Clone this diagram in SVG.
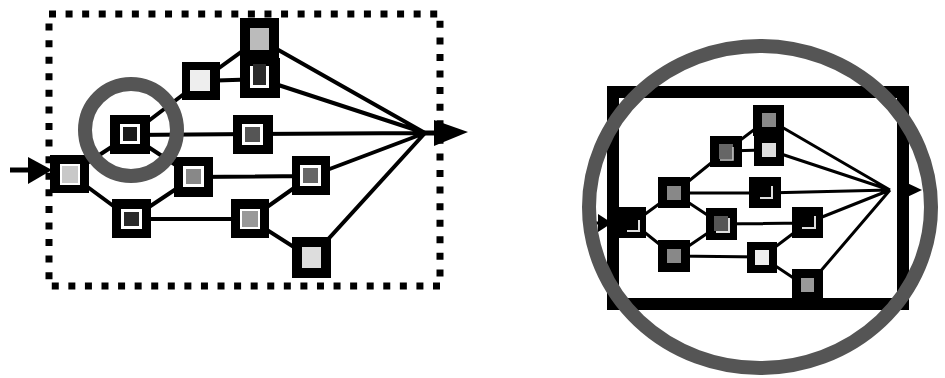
<svg xmlns="http://www.w3.org/2000/svg" width="945" height="378" viewBox="0 0 945 378">
<style>
.nb{fill:#000}
.wh{fill:#fff}
.ln{stroke:#000;stroke-width:4;fill:none}
.lr{stroke:#000;stroke-width:3;fill:none}
.ring{fill:none;stroke:#555}
</style>
<rect width="945" height="378" fill="#fff"/>
<!-- left frame -->
<rect x="49" y="14" width="391" height="272" fill="none" stroke="#000" stroke-width="7" stroke-dasharray="7 9.575"/>
<g id="connectors-left">
<path class="ln" d="M70,174 L130,135 M70,174 L131,219 M130,135 L201,81 M130,135 L253,134 M130,135 L194,177 M131,219 L194,177 M131,219 L250,219 M201,81 L259,39 M201,81 L260,79 M194,177 L311,176 M250,219 L311,176 M250,219 L311,258 M259,39 L425,133 M260,79 L425,133 M253,134 L425,133 M311,176 L425,133 M311,258 L425,133"/>
<path d="M10,170 L32,170" stroke="#000" stroke-width="5"/>
<path d="M28,157 L52,170 L28,184 Z" fill="#000"/>
<path d="M420,133 L437,133" stroke="#000" stroke-width="5"/>
<path d="M434,120 L468,132 L434,146 Z" fill="#000"/>
</g>
<g id="n1"><rect class="nb" x="50" y="155" width="39" height="38"/><rect class="wh" x="60" y="164" width="20" height="21"/><rect fill="#c8c8c8" x="62" y="166" width="16" height="17"/></g>
<g id="n2"><rect class="nb" x="110" y="115" width="40" height="39"/><rect class="wh" x="120" y="124" width="20" height="20"/><rect fill="#1a1a1a" x="123" y="127" width="14" height="14"/></g>
<g id="n3"><rect class="nb" x="112" y="199" width="39" height="39"/><rect class="wh" x="121" y="209" width="21" height="20"/><rect fill="#2a2a2a" x="124" y="212" width="15" height="14"/></g>
<g id="n4"><rect class="nb" x="174" y="157" width="39" height="40"/><rect class="wh" x="183" y="166" width="21" height="21"/><rect fill="#888" x="186" y="169" width="15" height="15"/></g>
<g id="n5"><rect class="nb" x="182" y="62" width="38" height="38"/><rect fill="#eee" x="190" y="70" width="20" height="21"/></g>
<g id="n6"><rect class="nb" x="240" y="18" width="39" height="42"/><rect fill="#bbb" x="250" y="28" width="19" height="22"/></g>
<g id="n7"><rect class="nb" x="240" y="58" width="40" height="40"/><rect class="wh" x="250" y="66" width="19" height="22"/><rect fill="#2a2a2a" x="253" y="64" width="13" height="21"/></g>
<g id="n8"><rect class="nb" x="233" y="115" width="40" height="39"/><rect class="wh" x="242" y="124" width="21" height="21"/><rect fill="#555" x="245" y="127" width="15" height="15"/></g>
<g id="n9"><rect class="nb" x="292" y="156" width="38" height="39"/><rect class="wh" x="300" y="165" width="21" height="21"/><rect fill="#666" x="303" y="168" width="15" height="15"/></g>
<g id="n10"><rect class="nb" x="231" y="199" width="38" height="39"/><rect class="wh" x="240" y="209" width="20" height="20"/><rect fill="#999" x="242" y="211" width="16" height="16"/></g>
<g id="n11"><rect class="nb" x="292" y="237" width="39" height="41"/><rect fill="#ddd" x="302" y="247" width="19" height="21"/></g>
<g id="highlight-ring"><circle class="ring" cx="131" cy="130" r="46" stroke-width="14"/></g>
<!-- right diagram -->
<rect x="613" y="92" width="290" height="212" fill="none" stroke="#000" stroke-width="12"/>
<g id="connectors-right">
<path class="lr" d="M633,223 L674,193 M633,223 L674,256 M674,193 L726,151 M674,193 L765,193 M674,193 L721,224 M674,256 L721,224 M674,256 L762,257 M726,151 L768,119 M726,151 L769,150 M721,224 L807,223 M762,257 L807,223 M762,257 L807,287 M768,119 L890,190 M769,150 L890,190 M765,193 L890,190 M807,223 L890,190 M807,287 L890,190"/>
<path d="M592,223 L602,223" stroke="#000" stroke-width="3"/>
<path d="M598,214 L612,223 L598,232 Z" fill="#000"/>
<path d="M903,181 L922,190 L903,199 Z" fill="#000"/>
</g>
<g id="r1"><rect class="nb" x="618" y="207" width="28" height="31"/><path d="M627,231 L639,231 L639,220" stroke="#ddd" stroke-width="2" fill="none"/></g>
<g id="r2"><rect class="nb" x="658" y="177" width="32" height="31"/><rect fill="#888" x="667" y="186" width="14" height="14"/></g>
<g id="r3"><rect class="nb" x="658" y="240" width="32" height="32"/><rect fill="#888" x="667" y="249" width="14" height="14"/></g>
<g id="r4"><rect class="nb" x="706" y="208" width="31" height="32"/><rect fill="#555" x="714" y="216" width="14" height="15"/><path d="M716,232 L729,232 L729,218" stroke="#ddd" stroke-width="2" fill="none"/></g>
<g id="r5"><rect class="nb" x="710" y="136" width="32" height="31"/><rect fill="#666" x="719" y="144" width="14" height="15"/><path d="M720,160 L733,160 L733,147" stroke="#ccc" stroke-width="1.5" fill="none"/></g>
<g id="r6"><rect class="nb" x="753" y="105" width="31" height="31"/><rect fill="#888" x="762" y="113" width="14" height="14"/></g>
<g id="r7"><rect class="nb" x="754" y="133" width="30" height="33"/><rect fill="#ddd" x="762" y="143" width="14" height="14"/></g>
<g id="r8"><rect class="nb" x="749" y="177" width="32" height="31"/><path d="M760,198 L772,198 L772,186" stroke="#ddd" stroke-width="2" fill="none"/></g>
<g id="r9"><rect class="nb" x="792" y="207" width="31" height="31"/><path d="M802,228 L815,228 L815,216" stroke="#ddd" stroke-width="2" fill="none"/></g>
<g id="r10"><rect class="nb" x="747" y="242" width="30" height="31"/><rect fill="#eee" x="755" y="250" width="14" height="15"/></g>
<g id="r11"><rect class="nb" x="792" y="269" width="31" height="35"/><rect fill="#999" x="801" y="278" width="13" height="14"/></g>
<g id="big-ring"><ellipse class="ring" cx="760" cy="207" rx="171" ry="161" stroke-width="14" stroke="#4a4a4a"/></g>
</svg>
